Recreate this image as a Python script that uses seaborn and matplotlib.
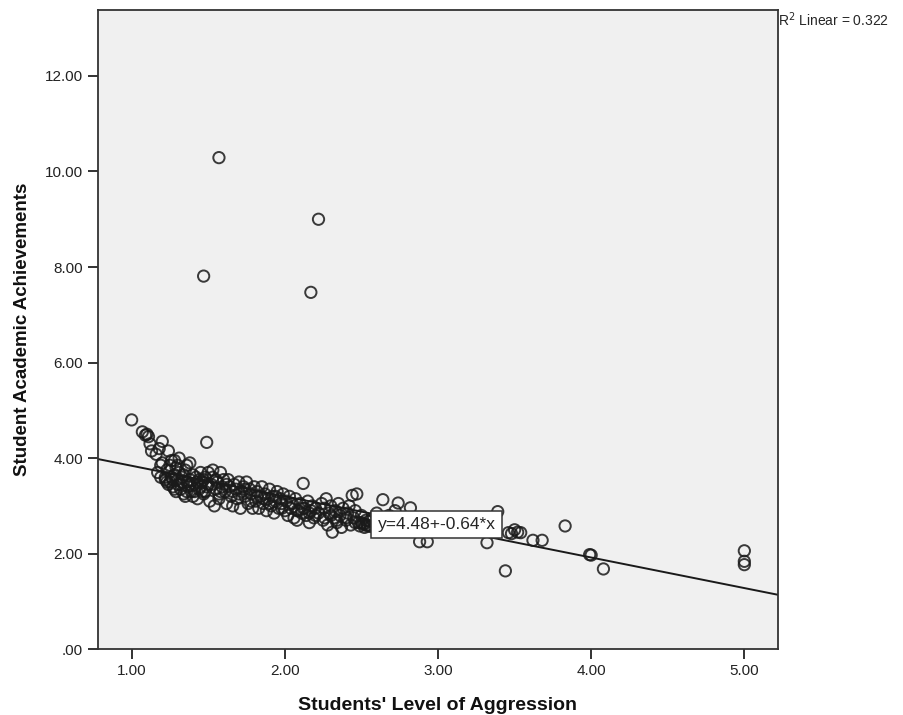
import matplotlib
matplotlib.use("Agg")
import matplotlib.pyplot as plt
import seaborn as sns
import pandas as pd

# points (x = aggression, y = achievement)
aggression = [
    1.00, 1.07, 1.09, 1.10, 1.12, 1.11,
    1.13, 1.16, 1.17, 1.19, 1.20, 1.18, 1.20, 1.19,
    1.22, 1.23, 1.24, 1.25, 1.26, 1.27, 1.28, 1.29, 1.25, 1.27, 1.30, 1.29, 1.22, 1.24,
    1.31, 1.32, 1.33, 1.34, 1.35, 1.36, 1.37, 1.38, 1.39, 1.33, 1.35, 1.38, 1.40, 1.31, 1.36, 1.40,
    1.41, 1.42, 1.43, 1.44, 1.45, 1.46, 1.47, 1.48, 1.49, 1.50, 1.44, 1.46, 1.49,
    1.51, 1.52, 1.53, 1.54, 1.55, 1.56, 1.57, 1.58, 1.59, 1.60, 1.53, 1.57,
    1.61, 1.62, 1.63, 1.64, 1.65, 1.66, 1.67, 1.68, 1.69, 1.70,
    1.71, 1.72, 1.73, 1.74, 1.75, 1.76, 1.77, 1.78, 1.79, 1.80,
    1.81, 1.82, 1.83, 1.84, 1.85, 1.86, 1.87, 1.88, 1.89, 1.90,
    1.91, 1.92, 1.93, 1.94, 1.95, 1.96, 1.97, 1.98, 1.99, 2.00,
    2.01, 2.02, 2.03, 2.04, 2.05, 2.06, 2.07, 2.08, 2.09, 2.10,
    2.11, 2.12, 2.13, 2.14, 2.15, 2.16, 2.17, 2.18, 2.19, 2.20,
    2.22, 2.24, 2.25, 2.26, 2.27, 2.28, 2.29, 2.30, 2.31, 2.32,
    2.33, 2.34, 2.35, 2.36, 2.37, 2.38, 2.40, 2.41, 2.42, 2.43,
    2.44, 2.45, 2.46, 2.47, 2.48, 2.49, 2.50, 2.51, 2.52, 2.53,
    2.54, 2.55, 2.56, 2.58, 2.60,
    2.64, 2.68, 2.72, 2.74, 2.78, 2.82, 2.86, 2.88, 2.93, 2.98,
    3.05, 3.12, 3.20, 3.32, 3.39, 3.36, 3.44, 3.46, 3.48, 3.50,
    3.52, 3.54, 3.62, 3.68, 3.83, 3.99, 4.00, 4.08, 5.00, 5.00, 5.00,
    1.57, 2.22, 1.47, 2.17,
    1.23, 1.26, 1.28, 1.30, 1.32, 1.34, 1.36, 1.38, 1.41, 1.43,
    1.45, 1.47, 1.48, 1.50, 1.30, 1.28,
    1.55, 1.58, 1.62, 1.66, 1.70, 1.74, 1.78, 1.82, 1.86, 1.90,
    1.94, 1.98,
    2.04, 2.08, 2.12, 2.16, 2.20, 2.26, 2.30, 2.34, 2.40, 2.46,
    2.50, 2.54, 2.52,
]
achievement = [
    4.80, 4.55, 4.48, 4.50, 4.30, 4.45,
    4.15, 4.08, 3.70, 3.85, 3.90, 4.20, 4.35, 3.60,
    3.55, 3.75, 4.15, 3.50, 3.95, 3.40, 3.65, 3.30, 3.85, 3.55, 3.45, 3.80, 3.60, 3.45,
    4.00, 3.35, 3.60, 3.25, 3.75, 3.50, 3.40, 3.90, 3.30, 3.50, 3.20, 3.55, 3.65, 3.70, 3.85, 3.20,
    3.45, 3.60, 3.15, 3.35, 3.70, 3.50, 3.25, 3.60, 3.40, 3.70, 3.55, 3.30, 4.33,
    3.10, 3.45, 3.60, 3.00, 3.35, 3.50, 3.25, 3.70, 3.40, 3.55, 3.75, 3.15,
    3.30, 3.05, 3.55, 3.40, 3.20, 3.00, 3.45, 3.35, 3.15, 3.50,
    2.95, 3.30, 3.40, 3.20, 3.50, 3.05, 3.35, 3.25, 2.95, 3.40,
    3.10, 3.30, 2.95, 3.20, 3.40, 3.05, 3.25, 2.90, 3.15, 3.35,
    3.00, 3.20, 2.85, 3.10, 3.30, 2.95, 3.15, 3.05, 3.25, 2.90,
    3.10, 2.80, 3.20, 2.95, 3.05, 2.75, 3.15, 2.70, 2.90, 3.05,
    2.85, 3.47, 2.95, 2.80, 3.10, 2.65, 2.90, 3.00, 2.75, 2.95,
    2.85, 3.05, 2.70, 2.95, 3.15, 2.60, 2.85, 3.00, 2.45, 2.75,
    2.90, 2.65, 3.05, 2.80, 2.55, 2.95, 2.70, 2.85, 3.00, 2.60,
    3.22, 2.75, 2.90, 3.25, 2.65, 2.58, 2.80, 2.62, 2.55, 2.70,
    2.60, 2.68, 2.57, 2.75, 2.85,
    3.13, 2.80, 2.90, 3.06, 2.75, 2.96, 2.60, 2.25, 2.25, 2.70,
    2.55, 2.65, 2.50, 2.23, 2.88, 2.45, 1.64, 2.44, 2.42, 2.50,
    2.45, 2.44, 2.28, 2.28, 2.58, 1.98, 1.97, 1.68, 2.06, 1.84, 1.77,
    10.29, 9.00, 7.81, 7.47,
    3.50, 3.60, 3.35, 3.55, 3.45, 3.65, 3.30, 3.45, 3.30, 3.50,
    3.40, 3.55, 3.30, 3.45, 3.85, 3.95,
    3.55, 3.30, 3.45, 3.30, 3.25, 3.35, 3.10, 3.20, 3.15, 3.05,
    3.20, 2.95,
    3.05, 2.90, 2.95, 2.85, 2.80, 2.75, 2.80, 2.70, 2.75, 2.65,
    2.65, 2.58, 2.62,
]

# fit reported by the chart
intercept = 4.48
slope = -0.64
r_squared = 0.322

df = pd.DataFrame({"aggression": aggression, "achievement": achievement})

sns.set_style("ticks")
plt.rcParams["font.family"] = ["Liberation Sans", "DejaVu Sans"]

fig = plt.figure(figsize=(9.04, 7.15), dpi=100)
ax = fig.add_axes([0.108, 0.092, 0.753, 0.894])
ax.set_facecolor("#f0f0f0")

sns.scatterplot(data=df, x="aggression", y="achievement", ax=ax,
                marker="o", s=66, facecolors="none", edgecolor="#1a1a1a",
                linewidth=1.4, alpha=0.85, zorder=3)

ax.axline((0, intercept), slope=slope, color="#1a1a1a", linewidth=1.4, zorder=2)

ax.set_xlim(0.778, 5.222)
ax.set_ylim(0, 13.38)
ax.set_xticks([1, 2, 3, 4, 5])
ax.set_xticklabels(["1.00", "2.00", "3.00", "4.00", "5.00"])
ax.set_yticks([0, 2, 4, 6, 8, 10, 12])
ax.set_yticklabels([".00", "2.00", "4.00", "6.00", "8.00", "10.00", "12.00"])
ax.tick_params(axis="both", length=7, width=1.3, color="#222222",
               labelsize=11, labelcolor="#222222", direction="out")
for side in ["left", "right", "top", "bottom"]:
    ax.spines[side].set_visible(True)
    ax.spines[side].set_linewidth(1.3)
    ax.spines[side].set_color("#333333")

ax.set_xlabel("Students' Level of Aggression", fontsize=14, fontweight="bold",
              labelpad=14, color="#111111")
ax.set_ylabel("Student Academic Achievements", fontsize=13.5, fontweight="bold",
              labelpad=10, color="#111111")

ax.text(2.99, 2.61, f"y={intercept}+{slope}*x", fontsize=12.5, ha="center", va="center",
        zorder=5, bbox=dict(boxstyle="square,pad=0.35", facecolor="white",
                            edgecolor="#333333", linewidth=1.1))

fig.text(0.861, 0.972, f"R$^2$ Linear = {r_squared}", fontsize=10, ha="left", va="center")

fig.savefig("out.png", dpi=100)
